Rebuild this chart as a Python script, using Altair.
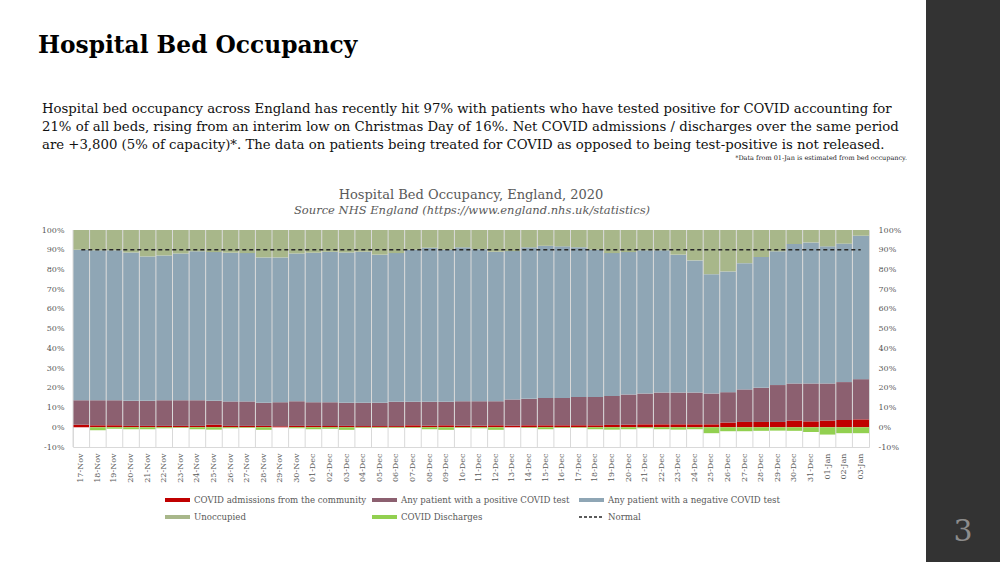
import altair as alt
import pandas as pd

# ---- data (percent of all general & acute beds) ----
dates = [
    "17-Nov", "18-Nov", "19-Nov", "20-Nov", "21-Nov", "22-Nov", "23-Nov", "24-Nov",
    "25-Nov", "26-Nov", "27-Nov", "28-Nov", "29-Nov", "30-Nov", "01-Dec", "02-Dec",
    "03-Dec", "04-Dec", "05-Dec", "06-Dec", "07-Dec", "08-Dec", "09-Dec", "10-Dec",
    "11-Dec", "12-Dec", "13-Dec", "14-Dec", "15-Dec", "16-Dec", "17-Dec", "18-Dec",
    "19-Dec", "20-Dec", "21-Dec", "22-Dec", "23-Dec", "24-Dec", "25-Dec", "26-Dec",
    "27-Dec", "28-Dec", "29-Dec", "30-Dec", "31-Dec", "01-Jan", "02-Jan", "03-Jan",
]
admissions = [
    1.3, 1.0, 1.0, 0.7, 0.7, 0.7, 0.7, 0.7, 1.3, 0.7, 0.7, 0.7, 0.5, 0.7, 0.7, 0.7,
    0.7, 0.6, 0.6, 0.6, 1.0, 0.8, 1.0, 0.8, 0.8, 1.0, 0.8, 1.0, 1.0, 1.0, 1.0, 1.0,
    1.2, 1.3, 1.5, 1.5, 1.5, 1.5, 1.5, 2.4, 2.7, 2.7, 2.7, 3.4, 3.0, 3.4, 3.7, 4.0,
]
positive = [
    12.4, 12.7, 12.7, 12.7, 12.7, 13.0, 13.0, 13.0, 12.1, 12.4, 12.4, 11.7, 12.2, 12.5, 12.0, 12.0,
    11.7, 11.8, 11.8, 12.3, 11.9, 12.1, 11.9, 12.4, 12.4, 12.2, 13.3, 13.4, 13.9, 13.9, 14.4, 14.4,
    14.7, 15.3, 15.6, 16.1, 16.1, 16.1, 15.6, 15.4, 16.5, 17.3, 18.7, 18.8, 19.2, 18.8, 19.2, 20.4,
]
negative = [
    76.3, 76.0, 76.0, 75.2, 73.2, 73.4, 74.4, 75.5, 75.4, 75.4, 75.2, 73.7, 73.4, 74.9, 75.8, 76.3,
    76.2, 76.6, 75.1, 75.4, 77.1, 78.1, 77.1, 78.0, 77.1, 75.8, 75.2, 76.8, 77.1, 76.8, 75.8, 74.6,
    72.4, 72.2, 72.6, 72.1, 69.9, 67.0, 60.5, 61.2, 64.0, 66.3, 67.8, 70.7, 71.5, 69.5, 70.2, 72.7,
]
unoccupied = [
    10.0, 10.3, 10.3, 11.4, 13.4, 12.9, 11.9, 10.8, 11.2, 11.5, 11.7, 13.9, 13.9, 11.9, 11.5, 11.0,
    11.4, 11.0, 12.5, 11.7, 10.0, 9.0, 10.0, 8.8, 9.7, 11.0, 10.7, 8.8, 8.0, 8.3, 8.8, 10.0,
    11.7, 11.2, 10.3, 10.3, 12.5, 15.4, 22.4, 21.0, 16.8, 13.7, 10.8, 7.1, 6.3, 8.3, 6.9, 2.9,
]
discharges = [
    0.0, -1.5, -0.7, -1.0, -1.0, -0.5, -0.3, -1.0, -1.2, -0.5, -0.3, -1.3, 0.0, -0.5, -1.0, -0.8,
    -1.3, -0.3, -0.3, -0.3, -0.3, -1.0, -1.3, -0.3, -0.5, -1.3, 0.0, -0.3, -1.0, -0.3, -0.3, -1.0,
    -1.2, -1.0, -0.5, -1.0, -1.2, -1.0, -3.0, -2.0, -2.0, -1.8, -1.7, -1.8, -2.4, -3.7, -3.0, -3.0,
]
NORMAL = 90

series_names = [
    "COVID admissions from the community",
    "Any patient with a positive COVID test",
    "Any patient with a negative COVID test",
    "Unoccupied",
    "COVID Discharges",
]
series_colors = ["#c00000", "#8c6070", "#8fa6b5", "#a8b78a", "#92d050"]
y_ticks = [-10, 0, 10, 20, 30, 40, 50, 60, 70, 80, 90, 100]

rows = []
for k, vals in enumerate([admissions, positive, negative, unoccupied, discharges]):
    for d, v in zip(dates, vals):
        rows.append({"date": d, "series": series_names[k], "value": v, "order": k})
df = pd.DataFrame(rows)
days = pd.DataFrame({"date": dates})
one = pd.DataFrame({"k": [0]})

# ---- layout ----
W, H = 796, 217
PAD_L, PAD_T, PAD_R, PAD_B = 73, 230, 131, 115
FONT = "DejaVu Serif"
GREY = "#595959"


def px(x):
    return alt.value(x - PAD_L)


def py(y):
    return alt.value(y - PAD_T)


x_axis = alt.Axis(
    title=None, labelAngle=270, labelFont=FONT, labelFontSize=8, labelColor=GREY,
    ticks=False, domain=False, grid=False, labelPadding=6,
)
x_scale = alt.Scale(paddingInner=0, paddingOuter=0)
y_scale = alt.Scale(domain=[-10, 100], nice=False, zero=False)


def y_axis(orient):
    return alt.Axis(
        title=None, orient=orient, values=y_ticks, labelExpr="datum.value + '%'",
        ticks=False, domain=False, grid=False, labelFont=FONT, labelFontSize=8,
        labelColor=GREY, labelPadding=9,
    )


bars = alt.Chart(df).mark_bar().encode(
    x=alt.X("date:N", sort=dates, scale=x_scale, axis=x_axis),
    y=alt.Y("value:Q", stack="zero", scale=y_scale, axis=y_axis("left")),
    color=alt.Color("series:N", scale=alt.Scale(domain=series_names, range=series_colors), legend=None),
    order=alt.Order("order:Q", sort="ascending"),
)

right_axis = alt.Chart(df).mark_point(opacity=0).encode(
    x=alt.X("date:N", sort=dates, scale=x_scale, axis=x_axis),
    y=alt.Y("value:Q", scale=y_scale, axis=y_axis("right")),
)

day_lines = alt.Chart(days).mark_rule(color="#d9d9d9", strokeWidth=1).encode(
    x=alt.X("date:N", sort=dates, scale=x_scale, axis=x_axis, bandPosition=0),
    y=alt.value(0),
    y2=alt.value(H),
)

normal_line = alt.Chart(days).mark_line(color="#262626", strokeDash=[4, 3], strokeWidth=1.4).encode(
    x=alt.X("date:N", sort=dates, scale=x_scale, axis=x_axis),
    y=alt.Y(datum=NORMAL, scale=y_scale, axis=None),
)


def text(t, x, y, size, color="#000000", align="left", weight="normal", style="normal", font=FONT):
    return alt.Chart(one).mark_text(
        font=font, fontSize=size, color=color, align=align, baseline="alphabetic",
        fontWeight=weight, fontStyle=style,
    ).encode(x=px(x), y=py(y), text=alt.value(t))


paragraph = [
    "Hospital bed occupancy across England has recently hit 97% with patients who have tested positive for COVID accounting for",
    "21% of all beds, rising from an interim low on Christmas Day of 16%. Net COVID admissions / discharges over the same period",
    "are +3,800 (5% of capacity)*. The data on patients being treated for COVID as opposed to being test-positive is not released.",
]

texts = [
    text("Hospital Bed Occupancy", 38, 53, 23.3, weight="bold"),
    text(paragraph[0], 42, 113, 13.25, color="#111111"),
    text(paragraph[1], 42, 131, 13.25, color="#111111"),
    text(paragraph[2], 42, 149, 13.25, color="#111111"),
    text("*Data from 01-Jan is estimated from bed occupancy.", 907, 160, 6.5, color="#1a1a1a", align="right"),
    text("Hospital Bed Occupancy, England, 2020", 471, 199, 13, color=GREY, align="center"),
    text("Source NHS England (https://www.england.nhs.uk/statistics)", 472, 214, 11.5, color=GREY,
         align="center", style="italic"),
]

# side panel with the slide number
panel = alt.Chart(one).mark_rect(color="#333333").encode(
    x=px(926), x2=px(1000), y=py(0), y2=py(562),
)
page_no = text("3", 963, 541, 30, color="#8c8c8c", align="center")

# legend: two rows of three entries
legend_items = [
    (series_names[0], series_colors[0], 165, 500, "bar"),
    (series_names[1], series_colors[1], 372, 500, "bar"),
    (series_names[2], series_colors[2], 579, 500, "bar"),
    (series_names[3], series_colors[3], 165, 517, "bar"),
    (series_names[4], series_colors[4], 372, 517, "bar"),
    ("Normal", "#262626", 579, 517, "dash"),
]
legend_layers = []
for name, color, lx, ly, kind in legend_items:
    if kind == "bar":
        sym = alt.Chart(one).mark_rect(color=color).encode(
            x=px(lx), x2=px(lx + 25), y=py(ly - 2), y2=py(ly + 2),
        )
    else:
        sym = alt.Chart(one).mark_rule(color=color, strokeDash=[3, 2], strokeWidth=1.4).encode(
            x=px(lx), x2=px(lx + 25), y=py(ly), y2=py(ly),
        )
    lab = alt.Chart(one).mark_text(
        font=FONT, fontSize=8.6, color=GREY, align="left", baseline="middle",
    ).encode(x=px(lx + 29), y=py(ly), text=alt.value(name))
    legend_layers += [sym, lab]

chart = alt.layer(
    bars, day_lines, normal_line, right_axis, *texts, panel, page_no, *legend_layers,
).resolve_axis(
    y="independent"
).properties(
    width=W,
    height=H,
    autosize=alt.AutoSizeParams(type="none"),
    padding={"left": PAD_L, "top": PAD_T, "right": PAD_R, "bottom": PAD_B},
    background="white",
).configure_view(
    stroke="#d9d9d9",
)

chart.save("out.html", embed_options={"renderer": "svg", "actions": False})
